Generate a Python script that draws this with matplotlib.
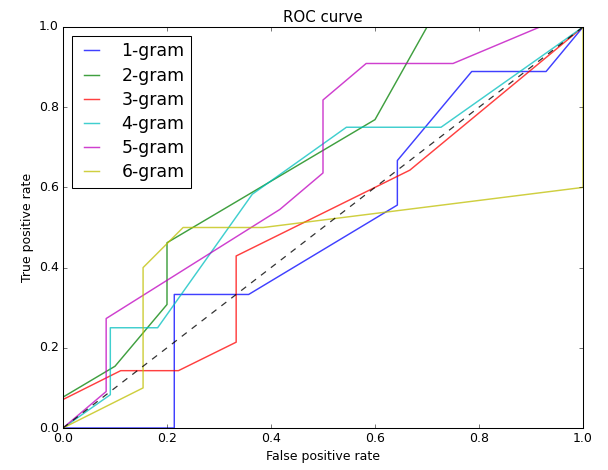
import matplotlib
matplotlib.use("Agg")
import matplotlib.pyplot as plt

labels = ["1-gram", "2-gram", "3-gram", "4-gram", "5-gram", "6-gram"]
colors = ["b", "g", "r", "c", "m", "y"]

fpr_1 = [0, 0.214, 0.214, 0.357, 0.643, 0.643, 0.786, 0.929, 1]
tpr_1 = [0, 0, 0.333, 0.333, 0.556, 0.667, 0.889, 0.889, 1]

fpr_2 = [0, 0.1, 0.2, 0.2, 0.6, 0.7, 1]
tpr_2 = [0.077, 0.154, 0.308, 0.462, 0.769, 1, 1]

fpr_3 = [0, 0.111, 0.222, 0.333, 0.333, 0.667, 1]
tpr_3 = [0.071, 0.143, 0.143, 0.214, 0.429, 0.643, 1]

fpr_4 = [0, 0.091, 0.091, 0.182, 0.364, 0.545, 0.727, 1]
tpr_4 = [0, 0.083, 0.25, 0.25, 0.583, 0.75, 0.75, 1]

fpr_5 = [0, 0.083, 0.083, 0.417, 0.5, 0.5, 0.583, 0.75, 0.917, 1]
tpr_5 = [0, 0.091, 0.273, 0.545, 0.636, 0.818, 0.909, 0.909, 1, 1]

fpr_6 = [0, 0.154, 0.154, 0.231, 0.385, 1, 1]
tpr_6 = [0, 0.1, 0.4, 0.5, 0.5, 0.6, 1]

curves = [(fpr_1, tpr_1), (fpr_2, tpr_2), (fpr_3, tpr_3),
          (fpr_4, tpr_4), (fpr_5, tpr_5), (fpr_6, tpr_6)]

plt.style.use("classic")
fig = plt.figure(figsize=(609 / 75, 470 / 75), dpi=75, facecolor="white")
fig.subplots_adjust(left=63 / 609, right=583 / 609, bottom=42 / 470, top=443 / 470)
ax = fig.add_subplot(111)

for (fpr, tpr), lab, col in zip(curves, labels, colors):
    ax.plot(fpr, tpr, color=col, label=lab, lw=1.4, alpha=0.75)
ax.plot([0, 1], [0, 1], "k--", lw=1.2, alpha=0.8)

ax.set_xlim(0, 1)
ax.set_ylim(0, 1)
ax.set_xlabel("False positive rate")
ax.set_ylabel("True positive rate")
ax.set_title("ROC curve")
ax.legend(loc="upper left", fontsize=16.5, handlelength=1.5,
          handletextpad=1.0, labelspacing=0.36, borderaxespad=0.5)

fig.savefig("out.png", dpi=75, facecolor="white")
